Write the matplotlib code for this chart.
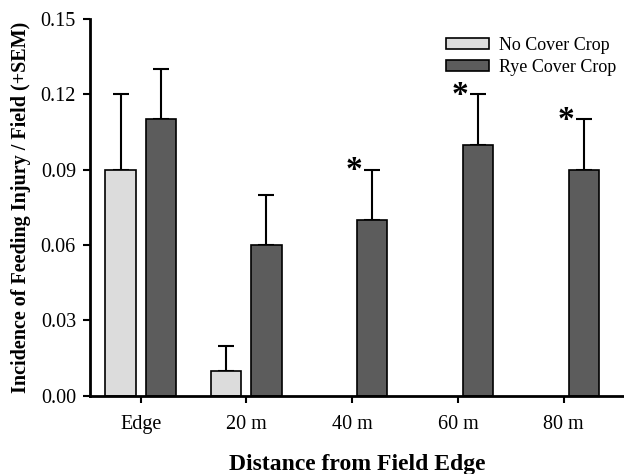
import matplotlib.pyplot as plt
import numpy as np

plt.rcParams['font.family'] = ['Liberation Serif', 'DejaVu Serif']

categories = ["Edge", "20 m", "40 m", "60 m", "80 m"]
no_cover = [0.09, 0.01, 0.0, 0.0, 0.0]
no_cover_sem = [0.03, 0.01, 0.0, 0.0, 0.0]
rye_cover = [0.11, 0.06, 0.07, 0.10, 0.09]
rye_cover_sem = [0.02, 0.02, 0.02, 0.02, 0.02]
significant = [False, False, True, True, True]

x = np.arange(len(categories))
width = 0.285
offset = 0.19

fig = plt.figure(figsize=(6.24, 4.74), dpi=100)
ax = fig.add_axes([0.144, 0.165, 0.856, 0.795])

for i in range(len(categories)):
    if no_cover[i] > 0:
        ax.bar(x[i] - offset, no_cover[i], width, color="#dcdcdc", edgecolor="black", linewidth=1.2, zorder=2)
        ax.errorbar(x[i] - offset, no_cover[i], yerr=[[0], [no_cover_sem[i]]], fmt="none",
                    ecolor="black", elinewidth=1.5, capsize=6, capthick=1.5, zorder=1)
    ax.bar(x[i] + offset, rye_cover[i], width, color="#5c5c5c", edgecolor="black", linewidth=1.2, zorder=2)
    ax.errorbar(x[i] + offset, rye_cover[i], yerr=[[0], [rye_cover_sem[i]]], fmt="none",
                ecolor="black", elinewidth=1.5, capsize=6, capthick=1.5, zorder=1)
    if significant[i]:
        ax.text(x[i] + offset - 0.17, rye_cover[i] + rye_cover_sem[i] - 0.0005, "*",
                ha="center", va="center", fontsize=24, fontweight="bold")

# legend proxies
ax.bar([0], [0], 0, color="#dcdcdc", edgecolor="black", linewidth=1.2, label="No Cover Crop")
ax.bar([0], [0], 0, color="#5c5c5c", edgecolor="black", linewidth=1.2, label="Rye Cover Crop")
handles, labels = ax.get_legend_handles_labels()
ax.legend(handles[-2:], labels[-2:], loc="upper right", bbox_to_anchor=(1.015, 0.996), frameon=False,
          fontsize=13, handlelength=2.4, handleheight=0.55, labelspacing=0.3, handletextpad=0.5)

ax.set_xlim(-0.48, 4.57)
ax.set_ylim(0, 0.15)
ax.set_yticks([0.0, 0.03, 0.06, 0.09, 0.12, 0.15])
ax.set_yticklabels(["0.00", "0.03", "0.06", "0.09", "0.12", "0.15"])
ax.set_xticks(x)
ax.set_xticklabels(categories)
ax.tick_params(direction="out", length=5, width=1.5, labelsize=14.5, pad=5)
ax.tick_params(axis="x", pad=9)

ax.spines["top"].set_visible(False)
ax.spines["right"].set_visible(False)
ax.spines["left"].set_linewidth(2)
ax.spines["bottom"].set_linewidth(2)

ax.set_xlabel("Distance from Field Edge", fontsize=17, fontweight="bold", labelpad=14)
ax.set_ylabel("Incidence of Feeding Injury / Field (+SEM)", fontsize=14.5, fontweight="bold", labelpad=7)

fig.savefig("out.png", dpi=100)
